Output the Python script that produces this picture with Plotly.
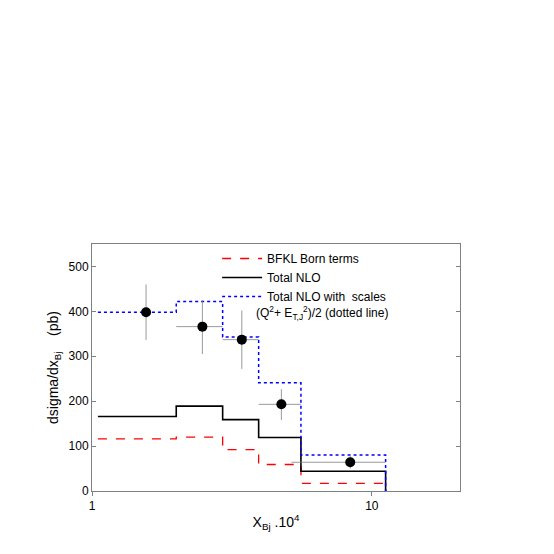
import plotly.graph_objects as go

edges = [1.05, 2.0, 2.93, 3.94, 5.58, 11.2]
blue = [398, 422, 343, 241, 80]
black = [166, 189, 159, 119, 44]
red = [116, 120, 92, 59, 17]
px = [1.56, 2.48, 3.43, 4.75, 8.37]
py = [398, 366, 337, 193, 64]
ey_hi = [62, 59, 65, 34, 14]
ey_lo = [62, 61, 65, 35, 14]
ex_lo = [0, 0.48, 0.5, 0.81, 3.21]
ex_hi = [0, 0.45, 0.51, 0.83, 2.83]

def step(vals):
    xs, ys = [], []
    for i, v in enumerate(vals):
        xs += [edges[i], edges[i+1]]
        ys += [v, v]
    xs.append(edges[-1]); ys.append(0)
    return xs, ys

fig = go.Figure()
x, y = step(red)
fig.add_trace(go.Scatter(x=x, y=y, mode="lines", name="BFKL Born terms",
                         line=dict(color="red", dash="dash", width=1.3)))
x, y = step(black)
fig.add_trace(go.Scatter(x=x, y=y, mode="lines", name="Total NLO",
                         line=dict(color="black", width=1.6)))
x, y = step(blue)
fig.add_trace(go.Scatter(x=x, y=y, mode="lines", name="Total NLO with  scales",
                         line=dict(color="blue", dash="dot", width=1.5)))
fig.add_trace(go.Scatter(x=px, y=py, mode="markers", showlegend=False,
                         marker=dict(color="black", size=10),
                         error_y=dict(type="data", symmetric=False, array=ey_hi, arrayminus=ey_lo,
                                      color="gray", thickness=0.8, width=0),
                         error_x=dict(type="data", symmetric=False, array=ex_hi, arrayminus=ex_lo,
                                      color="gray", thickness=0.8, width=0)))
fig.update_layout(
    width=554, height=554, plot_bgcolor="white", paper_bgcolor="white",
    margin=dict(l=84, r=102, t=236, b=71),
    font=dict(family="Liberation Sans, Arial", size=12, color="black"),
    legend=dict(x=0.34, y=1.0, xanchor="left", yanchor="top", bgcolor="rgba(0,0,0,0)",
                font=dict(size=12), tracegroupgap=0, itemwidth=40),
    annotations=[dict(x=0.44, y=0.72, xref="paper", yref="paper", xanchor="left", yanchor="middle",
                      showarrow=False, text="(Q<sup>2</sup>+ E<sub>T,J</sub><sup>2</sup>)/2 (dotted line)",
                      font=dict(size=12))],
)
fig.update_xaxes(type="log", range=[0, 1.315], tickvals=[1, 10], ticktext=["1", "10"],
                 showgrid=False, showline=True, linecolor="gray", mirror=True,
                 ticks="outside", ticklen=4, tickcolor="gray",
                 title=dict(text="X<sub>Bj</sub> .10<sup>4</sup>", standoff=4))
fig.update_yaxes(range=[0, 550], tickvals=[0, 100, 200, 300, 400, 500],
                 showgrid=False, showline=True, linecolor="gray", mirror="ticks",
                 ticks="inside", ticklen=4, tickcolor="gray", zeroline=False,
                 title=dict(text="dsigma/dx<sub>Bj</sub>    (pb)", standoff=6))
fig.write_html("out.html")
